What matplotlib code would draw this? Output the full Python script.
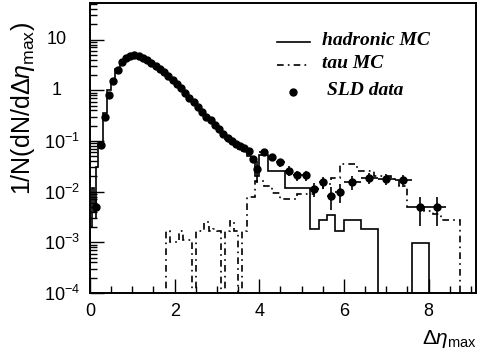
import numpy as np
import matplotlib
matplotlib.use("Agg")
import matplotlib.pyplot as plt
from matplotlib.ticker import MultipleLocator, LogLocator, NullFormatter, FixedLocator, FixedFormatter

plt.rcParams["font.family"] = ["Liberation Sans", "DejaVu Sans"]
plt.rcParams["mathtext.fontset"] = "custom"
plt.rcParams["mathtext.rm"] = "Liberation Sans"
plt.rcParams["mathtext.it"] = "Liberation Sans:italic"

# --- hadronic MC histogram (solid) ---
had_edges = [0.0, 0.05, 0.1, 0.15, 0.2, 0.3, 0.4, 0.5, 0.6, 0.7, 0.8, 0.9, 1.0,
             1.1, 1.2, 1.3, 1.4, 1.5, 1.6, 1.7, 1.8, 1.9, 2.0, 2.1, 2.2, 2.3, 2.4,
             2.5, 2.6, 2.7, 2.8, 2.9, 3.0, 3.1, 3.2, 3.3, 3.4, 3.5, 3.6, 3.7, 3.8,
             3.9, 4.0, 4.2, 4.6, 5.2, 5.4, 5.6, 5.8, 6.0, 6.4, 6.8, 7.6, 8.0]
had_vals = [0.002, 0.012, 0.004, 0.03, 0.09, 0.35, 1.0, 1.6, 2.6, 3.6, 4.3, 4.7,
            4.8, 4.6, 4.3, 3.9, 3.5, 3.0, 2.6, 2.2, 1.9, 1.6, 1.35, 1.1, 0.9,
            0.72, 0.6, 0.48, 0.38, 0.31, 0.25, 0.2, 0.165, 0.135, 0.11, 0.09,
            0.08, 0.07, 0.062, 0.05, 0.04, 0.02, 0.052, 0.026, 0.0118, 0.0018,
            0.0027, 0.0035, 0.0017, 0.0027, 0.0018, 0.0, 0.00095]

# --- tau MC histogram (dash-dot) ---
tau_edges = [1.8, 1.9, 2.0, 2.1, 2.2, 2.3, 2.4, 2.5, 2.6, 2.7, 2.8, 2.9, 3.0,
             3.1, 3.2, 3.3, 3.4, 3.5, 3.6, 3.7, 3.9, 4.1, 4.3, 4.5, 4.7, 4.9,
             5.1, 5.3, 5.5, 5.7, 5.9, 6.1, 6.3, 6.5, 6.7, 6.9, 7.1, 7.3, 7.5,
             7.7, 7.9, 8.1, 8.3, 8.5, 8.75]
tau_vals = [0.0017, 0.001, 0.001, 0.0017, 0.0011, 0.0011, 0.0, 0.0017, 0.0017,
            0.0025, 0.0017, 0.0018, 0.0017, 0.0, 0.0017, 0.0026, 0.0017, 0.0,
            0.0017, 0.008, 0.0165, 0.013, 0.0095, 0.0072, 0.0072, 0.009, 0.009,
            0.012, 0.014, 0.019, 0.035, 0.035, 0.026, 0.026, 0.02, 0.02, 0.018,
            0.013, 0.005, 0.005, 0.0042, 0.0037, 0.0027, 0.0027]

# --- SLD data points ---
data_x = [0.15, 0.25, 0.35, 0.45, 0.55, 0.65, 0.75, 0.85, 0.95, 1.05, 1.15, 1.25,
          1.35, 1.45, 1.55, 1.65, 1.75, 1.85, 1.95, 2.05, 2.15, 2.25, 2.35, 2.45,
          2.55, 2.65, 2.75, 2.85, 2.95, 3.05, 3.15, 3.25, 3.35, 3.45, 3.55, 3.65,
          3.75, 3.85, 3.95, 4.1, 4.3, 4.5, 4.7, 4.9, 5.1, 5.3, 5.5, 5.7, 5.9,
          6.2, 6.6, 7.0, 7.4, 7.8, 8.2]
data_y = [0.005, 0.085, 0.30, 0.79, 1.5, 2.5, 3.6, 4.4, 4.85, 4.9, 4.75, 4.4,
          4.0, 3.5, 3.0, 2.6, 2.25, 1.9, 1.6, 1.35, 1.1, 0.88, 0.72, 0.58,
          0.47, 0.37, 0.30, 0.26, 0.21, 0.17, 0.14, 0.115, 0.098, 0.088, 0.08,
          0.072, 0.062, 0.045, 0.028, 0.06, 0.048, 0.038, 0.026, 0.021, 0.021,
          0.0115, 0.0155, 0.0083, 0.0100, 0.0155, 0.0186, 0.018, 0.0166,
          0.0049, 0.0049]
data_yerr = [0.002, 0.01, 0.02, 0.03, 0.04, 0.05, 0.06, 0.06, 0.06, 0.06, 0.06,
             0.06, 0.05, 0.05, 0.04, 0.04, 0.04, 0.03, 0.03, 0.03, 0.03, 0.02,
             0.02, 0.02, 0.015, 0.012, 0.01, 0.01, 0.009, 0.008, 0.007, 0.006,
             0.006, 0.005, 0.005, 0.005, 0.005, 0.005, 0.013, 0.008, 0.007,
             0.007, 0.006, 0.005, 0.005, 0.0035, 0.004, 0.004, 0.004, 0.0045,
             0.0045, 0.0045, 0.0045, 0.0028, 0.0028]
data_xerr = [0.05] * 39 + [0.1] * 10 + [0.2] * 6

ytick_vals = [1e-4, 1e-3, 1e-2, 1e-1, 1, 10]
ytick_labels = [r"$10^{-4}$", r"$10^{-3}$", r"$10^{-2}$", r"$10^{-1}$", "", ""]
plain_labels = [(1, "1"), (10, "10")]

floor = 1e-6
fig = plt.figure(figsize=(4.86, 3.54), dpi=100, facecolor="white")
ax = fig.add_axes([90 / 486, 1 - 293 / 354, 386 / 486, 289.7 / 354])

had = np.array(had_vals)
tau = np.array(tau_vals)
ax.stairs(np.where(had > 0, had, floor), had_edges, baseline=floor,
          color="black", lw=1.2)
ax.stairs(np.where(tau > 0, tau, floor), tau_edges, baseline=floor,
          color="black", lw=1.2, linestyle=(0, (4, 2.5, 1, 2.5)))
ax.errorbar(data_x, data_y, yerr=data_yerr, xerr=data_xerr, fmt="o",
            color="black", ms=5, elinewidth=1.2, capsize=0)

ax.set_yscale("log")
ax.set_xlim(0, 9.12)
ax.set_ylim(1e-4, 52)
ax.xaxis.set_major_locator(MultipleLocator(2))
ax.xaxis.set_minor_locator(MultipleLocator(0.5))
ax.yaxis.set_major_locator(FixedLocator(ytick_vals))
ax.yaxis.set_major_formatter(FixedFormatter(ytick_labels))
ax.yaxis.set_minor_locator(LogLocator(subs=np.arange(2, 10), numticks=20))
ax.yaxis.set_minor_formatter(NullFormatter())
ax.tick_params(which="both", direction="in", top=False, right=False,
               labelsize=13, width=1)
ax.tick_params(which="major", length=10)
ax.tick_params(which="minor", length=5)
ax.tick_params(axis="x", pad=7)
ax.tick_params(axis="y", pad=7)
for s in ax.spines.values():
    s.set_linewidth(1.4)

# plain "1" and "10" sit where the base of 10^n sits
for v, s in plain_labels:
    ax.text(-0.087, v, s, transform=ax.get_yaxis_transform(), ha="center",
            va="center", fontsize=13)

# legend drawn by hand
lx0, lx1 = 277 / 486, 310 / 486
for yb, ls in [(41.7, "-"), (65, (0, (4, 2.5, 1, 2.5)))]:
    fig.add_artist(plt.Line2D([lx0, lx1], [1 - yb / 354] * 2, color="black",
                              lw=1.2, linestyle=ls, transform=fig.transFigure))
fig.add_artist(plt.Line2D([293 / 486], [1 - 91.7 / 354], marker="o", ms=5,
                          color="black", transform=fig.transFigure))
legfont = dict(family="Liberation Serif", weight="bold", style="italic",
               fontsize=14, va="baseline", ha="left")
fig.text(322 / 486, 1 - 45 / 354, "hadronic MC", **legfont)
fig.text(322 / 486, 1 - 68 / 354, "tau MC", **legfont)
fig.text(327 / 486, 1 - 95 / 354, "SLD data", **legfont)

fig.text(23 / 486, 1 - 108 / 354, r"1/N(dN/d$\Delta\eta_{\rm max}$)",
         rotation=90, ha="center", va="center", fontsize=18)
fig.text(477 / 486, 1 - 339 / 354, r"$\Delta\eta_{\rm max}$",
         ha="right", va="center", fontsize=15)

fig.savefig("out.png", dpi=100, facecolor="white")
